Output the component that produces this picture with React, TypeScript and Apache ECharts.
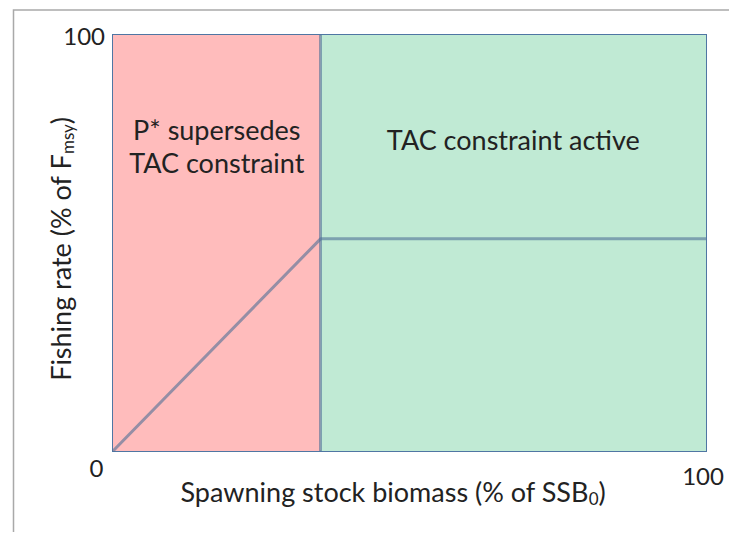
import React, { useEffect, useRef } from 'react';
import * as echarts from 'echarts';

// Axis ranges and tick labels
const xRange = [0, 100];
const yRange = [0, 100];
const xTickLabels = ['0', '100'];
const yTickLabels = ['', '100'];

// Harvest control rule (x: % of SSB0, y: % of Fmsy)
const ruleX = [0, 35, 100];
const ruleY = [0, 51, 51];

// Regions
const regionNames = ['P* supersedes\nTAC constraint', 'TAC constraint active'];
const regionStart = [0, 35];
const regionEnd = [35, 100];
const regionColors = ['#ffbcbc', '#c0ead4'];
const regionLabelDistance = [78, 88];

const dividerX = 35;

const FONT = 'Lato';

export default function App() {
  const ref = useRef<HTMLDivElement>(null);
  useEffect(() => {
    if (!ref.current) return;
    const chart = echarts.init(ref.current, null, { renderer: 'svg' });
    const lineColor = 'rgba(78,112,150,0.6)';
    chart.setOption({
      animation: false,
      backgroundColor: '#ffffff',
      textStyle: { fontFamily: FONT },
      grid: {
        left: 113,
        top: 35,
        right: 31,
        bottom: 89,
        show: true,
        borderColor: '#4f76a3',
        borderWidth: 2,
        backgroundColor: 'transparent',
      },
      graphic: [
        {
          type: 'rect',
          shape: { x: 13.5, y: 10, width: 900, height: 700 },
          style: { fill: 'none', stroke: '#a9a9a9', lineWidth: 1.5 },
          z: -1,
        },
      ],
      xAxis: {
        type: 'value',
        min: xRange[0],
        max: xRange[1],
        interval: 100,
        splitLine: { show: false },
        axisLine: { show: false },
        axisTick: { show: false },
        axisLabel: {
          margin: 4,
          fontSize: 24,
          color: '#222',
          fontFamily: FONT,
          formatter: (v: number) => (v === 0 ? `{a|${xTickLabels[0]}}` : `{b|${xTickLabels[1]}}`),
          rich: {
            a: { fontSize: 24, color: '#222', fontFamily: FONT, padding: [0, 33, 0, 0] },
            b: { fontSize: 24, color: '#222', fontFamily: FONT, padding: [8, 6, 0, 0] },
          },
        },
        name: 'Spawning stock biomass (% of SSB{sub|0})',
        nameLocation: 'middle',
        nameGap: 25,
        nameMoveOverlap: false,
        nameTextStyle: {
          fontSize: 27,
          color: '#222',
          fontFamily: FONT,
          padding: [0, 33, 0, 0],
          rich: {
            sub: { fontSize: 17, color: '#222', fontFamily: FONT, padding: [14, 0, 0, 0] },
          },
        },
      },
      yAxis: {
        type: 'value',
        min: yRange[0],
        max: yRange[1],
        interval: 100,
        splitLine: { show: false },
        axisLine: { show: false },
        axisTick: { show: false },
        axisLabel: {
          margin: 8,
          fontSize: 24,
          color: '#222',
          fontFamily: FONT,
          formatter: (v: number) => (v === 0 ? yTickLabels[0] : yTickLabels[1]),
        },
        name: 'Fishing rate (% of F{sub|msy})',
        nameLocation: 'middle',
        nameGap: 37,
        nameMoveOverlap: false,
        nameTextStyle: {
          fontSize: 27,
          color: '#222',
          fontFamily: FONT,
          padding: [0, 12, 0, 0],
          rich: {
            sub: { fontSize: 17, color: '#222', fontFamily: FONT, padding: [14, 0, 0, 0] },
          },
        },
      },
      series: [
        {
          type: 'line',
          data: ruleX.map((x, i) => [x, ruleY[i]]),
          showSymbol: false,
          lineStyle: { color: lineColor, width: 3 },
          z: 3,
          markArea: {
            silent: true,
            data: regionNames.map((n, i) => [
              {
                name: n,
                xAxis: regionStart[i],
                yAxis: yRange[0],
                itemStyle: { color: regionColors[i], opacity: 1 },
                label: { distance: regionLabelDistance[i] },
              },
              { xAxis: regionEnd[i], yAxis: yRange[1] },
            ]),
            label: {
              show: true,
              position: 'insideTop',
              fontSize: 27,
              lineHeight: 33,
              color: '#222',
              fontFamily: FONT,
              align: 'center',
            },
          },
          markLine: {
            silent: true,
            symbol: 'none',
            label: { show: false },
            lineStyle: { color: lineColor, width: 3, type: 'solid' },
            data: [{ xAxis: dividerX }],
          },
        },
      ],
    });
    return () => chart.dispose();
  }, []);
  return <div ref={ref} style={{ width: 737, height: 540, margin: -8 }} />;
}
